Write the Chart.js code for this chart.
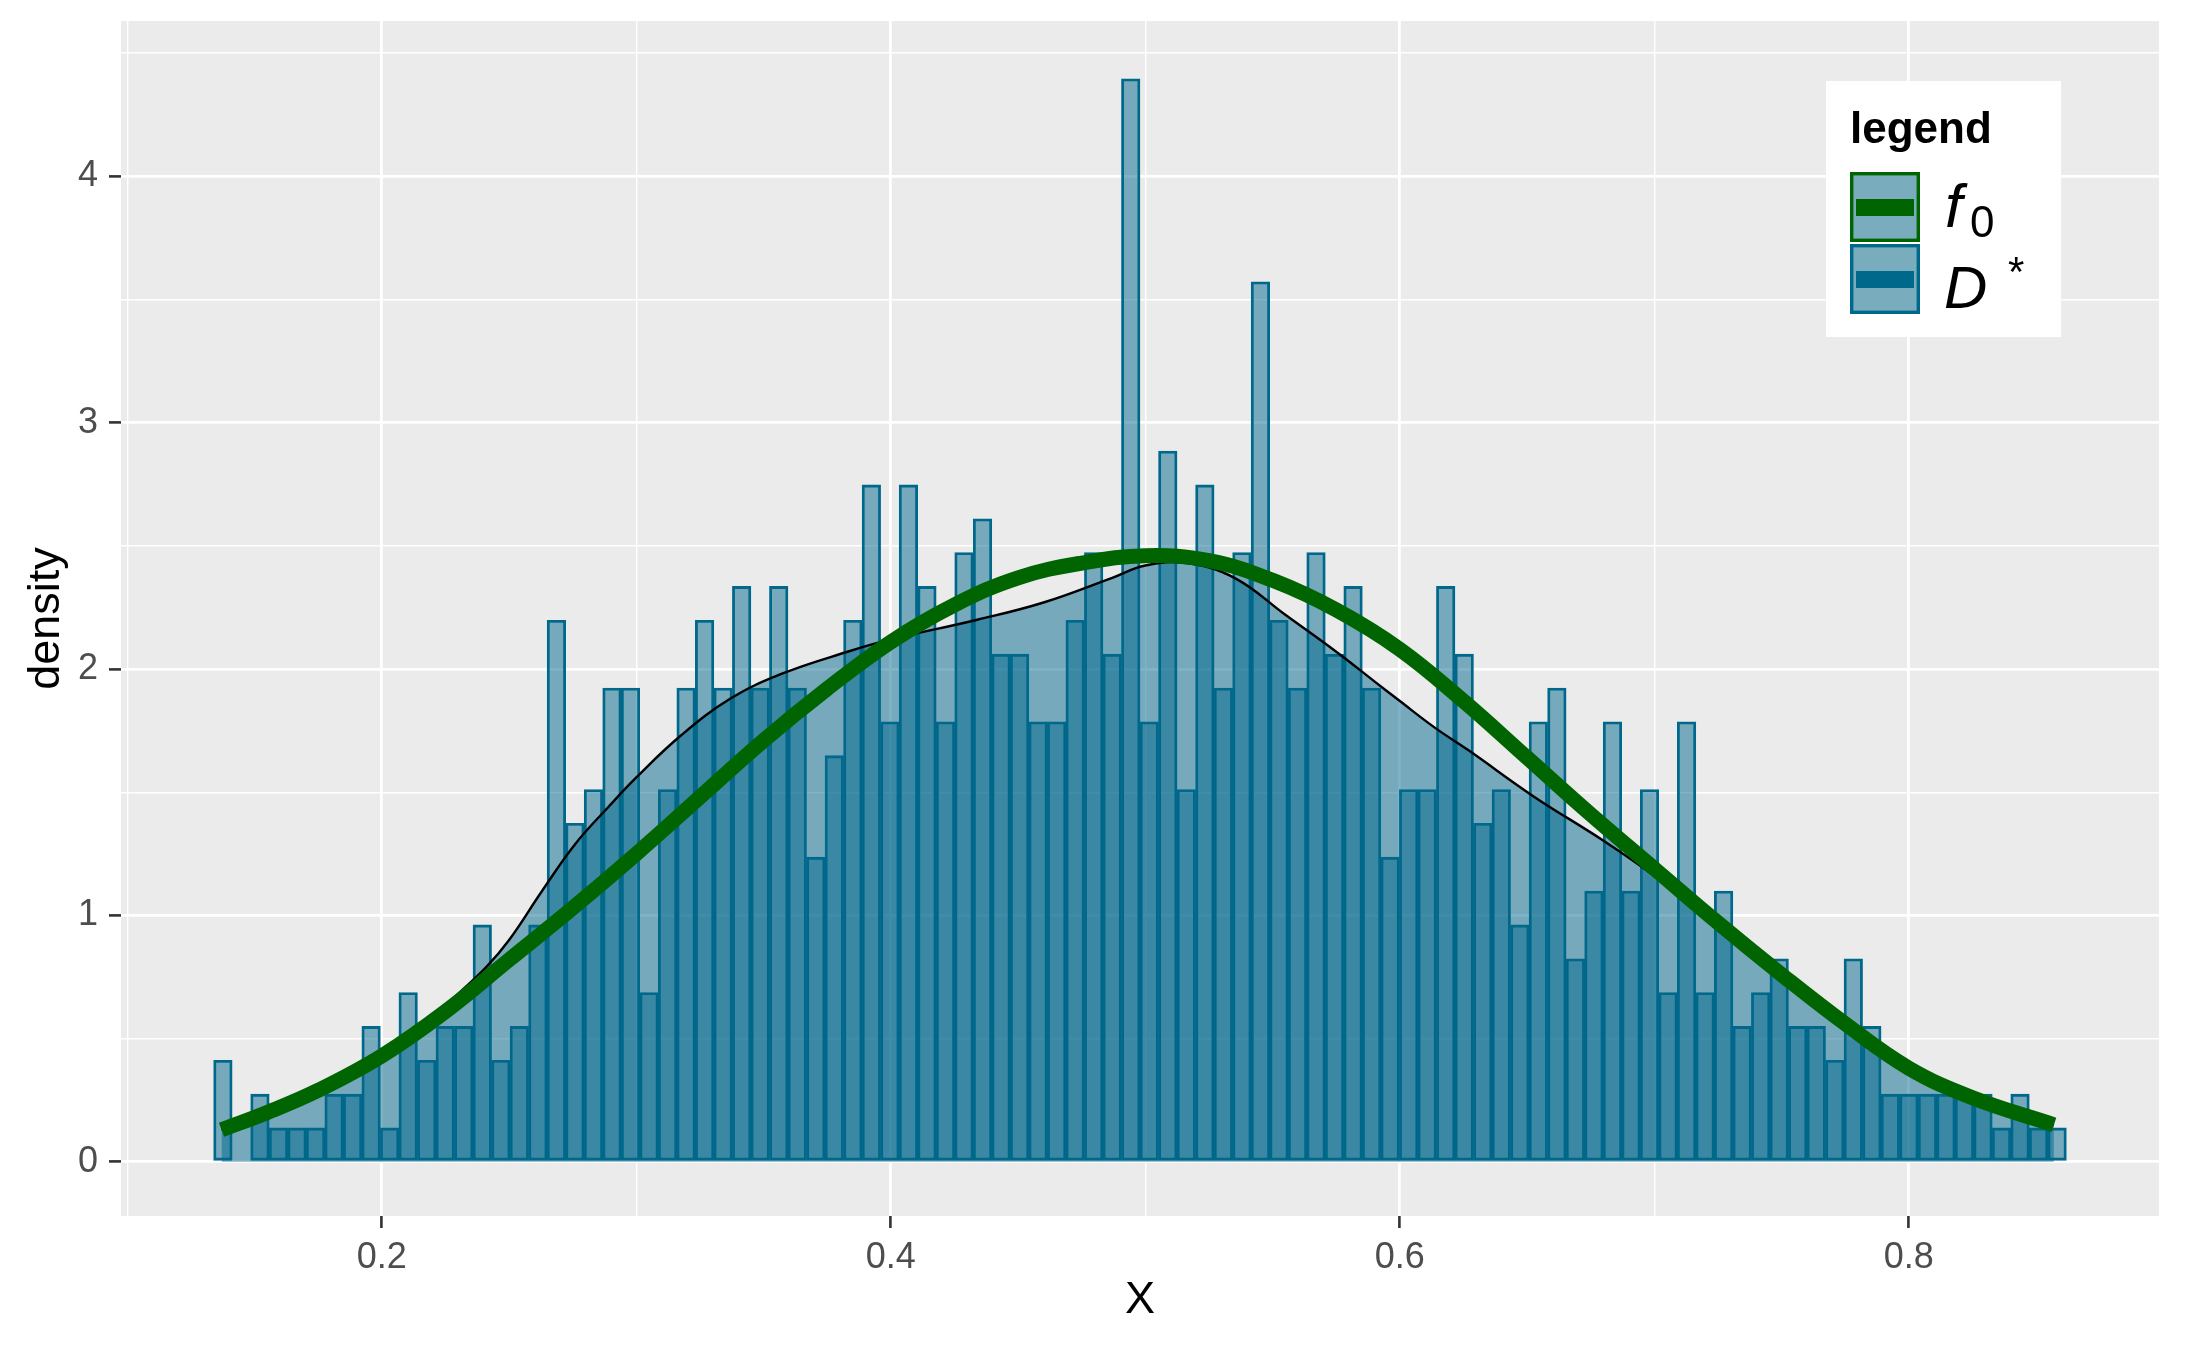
<!DOCTYPE html>
<html>
<head>
<meta charset="utf-8">
<script src="https://cdn.jsdelivr.net/npm/chart.js@4.4.0/dist/chart.umd.min.js"></script>
<style>
  html, body { margin: 0; padding: 0; background: #ffffff; }
  #wrap { width: 2187px; height: 1350px; }
</style>
</head>
<body>
<div id="wrap"><canvas id="histChart"></canvas></div>
<script>
// histogram: 100 bins, counts
const binStart = 0.1339;
const binWidth = 0.00728;
const sampleSize = 1000;
const binCounts = [
  3, 0, 2, 1, 1, 1, 2, 2, 4, 1, 5, 3, 4, 4, 7, 3, 4, 7, 16, 10,
  11, 14, 14, 5, 11, 14, 16, 14, 17, 14, 17, 14, 9, 12, 16, 20, 13, 20, 17, 13,
  18, 19, 15, 15, 13, 13, 16, 18, 15, 32, 13, 21, 11, 20, 14, 18, 26, 16, 14, 18,
  15, 17, 14, 9, 11, 11, 17, 15, 10, 11, 7, 13, 14, 6, 8, 13, 8, 11, 5, 13,
  5, 8, 4, 5, 6, 4, 4, 3, 6, 4, 2, 2, 2, 2, 2, 2, 1, 2, 1, 1
];

// f0 curve (green)
const f0X = [0.137, 0.155, 0.175, 0.2, 0.225, 0.25, 0.275, 0.3, 0.325, 0.35,
  0.375, 0.4, 0.425, 0.45, 0.475, 0.5, 0.525, 0.55, 0.575, 0.6,
  0.625, 0.65, 0.675, 0.7, 0.725, 0.75, 0.775, 0.8, 0.825, 0.857];
const f0Y = [0.13, 0.20, 0.29, 0.43, 0.61, 0.82, 1.03, 1.25, 1.48, 1.71,
  1.92, 2.11, 2.26, 2.37, 2.43, 2.46, 2.44, 2.36, 2.24, 2.08,
  1.87, 1.64, 1.41, 1.19, 0.97, 0.76, 0.56, 0.38, 0.26, 0.15];

// kernel density of D* (black line, filled)
const densX = [0.137, 0.155, 0.175, 0.2, 0.217, 0.225, 0.241, 0.25, 0.263, 0.276,
  0.289, 0.3, 0.3175, 0.337, 0.357, 0.383, 0.4, 0.434, 0.46, 0.487,
  0.5, 0.516, 0.535, 0.555, 0.575, 0.59, 0.6, 0.614, 0.627, 0.653,
  0.679, 0.7, 0.723, 0.731, 0.7625, 0.78, 0.8, 0.825, 0.857];
const densY = [0.13, 0.20, 0.29, 0.43, 0.53, 0.63, 0.79, 0.90, 1.10, 1.29,
  1.44, 1.56, 1.73, 1.88, 1.98, 2.07, 2.12, 2.20, 2.27, 2.37,
  2.42, 2.43, 2.37, 2.22, 2.07, 1.95, 1.87, 1.76, 1.67, 1.48,
  1.31, 1.16, 0.97, 0.89, 0.65, 0.52, 0.40, 0.27, 0.15];

const xMajor = [0.2, 0.4, 0.6, 0.8];
const xMinor = [0.1, 0.3, 0.5, 0.7];
const yMajor = [0, 1, 2, 3, 4];
const yMinor = [0.5, 1.5, 2.5, 3.5, 4.5];

const FONT = "'Liberation Sans', Arial, sans-serif";
const BLUE = "#00688B";
const GREEN = "#006400";

const barData = binCounts.map((c, i) => ({
  x: binStart + (i + 0.5) * binWidth,
  y: c / (sampleSize * binWidth),
}));
const f0Data = f0X.map((x, i) => ({ x: x, y: f0Y[i] }));
const densData = densX.map((x, i) => ({ x: x, y: densY[i] }));

function gridOpts(major) {
  return {
    offset: false,
    color: "#ffffff",
    lineWidth: (ctx) => (ctx.tick && major.includes(ctx.tick.value) ? 2.8 : 1.4),
    tickColor: (ctx) => (ctx.tick && major.includes(ctx.tick.value) ? "#333333" : "rgba(0,0,0,0)"),
    tickWidth: 2.6,
    tickLength: 12,
  };
}

const panelBg = {
  id: "panelBg",
  beforeDraw(chart) {
    const { ctx, chartArea } = chart;
    ctx.save();
    ctx.fillStyle = "#EBEBEB";
    ctx.fillRect(chartArea.left, chartArea.top, chartArea.right - chartArea.left, chartArea.bottom - chartArea.top);
    ctx.restore();
  },
};

// ggplot style legend box in the top right corner
const boxLegend = {
  id: "boxLegend",
  afterDraw(chart) {
    const ctx = chart.ctx;
    const x0 = chart.chartArea.right - 333;
    const y0 = chart.chartArea.top + 60;
    ctx.save();
    ctx.fillStyle = "#ffffff";
    ctx.fillRect(x0, y0, 235, 256);

    ctx.fillStyle = "#000000";
    ctx.textBaseline = "alphabetic";
    ctx.font = "bold 44px " + FONT;
    ctx.fillText("legend", x0 + 24, y0 + 62);

    const keys = [
      { color: GREEN, y: y0 + 91 },
      { color: BLUE, y: y0 + 163 },
    ];
    keys.forEach((k) => {
      ctx.fillStyle = "#79ADBE";
      ctx.fillRect(x0 + 24, k.y, 70, 70);
      ctx.strokeStyle = k.color;
      ctx.lineWidth = 3.4;
      ctx.strokeRect(x0 + 25.7, k.y + 1.7, 66.6, 66.6);
      ctx.fillStyle = k.color;
      ctx.fillRect(x0 + 30, k.y + 27, 58, 17);
    });

    ctx.fillStyle = "#000000";
    ctx.font = "italic 62px " + FONT;
    ctx.fillText("f", x0 + 119, y0 + 146);
    ctx.font = "44px " + FONT;
    ctx.fillText("0", x0 + 144, y0 + 156);
    ctx.font = "italic 60px " + FONT;
    ctx.fillText("D", x0 + 118, y0 + 227);
    ctx.font = "42px " + FONT;
    ctx.fillText("*", x0 + 182, y0 + 205);
    ctx.restore();
  },
};

const ctx = document.getElementById("histChart").getContext("2d");

const chart = new Chart(ctx, {
  type: "bar",
  data: {
    datasets: [
      {
        type: "line",
        label: "f0",
        data: f0Data,
        borderColor: GREEN,
        borderWidth: 15,
        pointRadius: 0,
        tension: 0.4,
        fill: false,
        order: 0,
      },
      {
        type: "line",
        label: "density",
        data: densData,
        borderColor: "#000000",
        borderWidth: 2.4,
        backgroundColor: "rgba(0,104,139,0.5)",
        pointRadius: 0,
        tension: 0.4,
        fill: "origin",
        order: 1,
      },
      {
        type: "bar",
        label: "D*",
        data: barData,
        backgroundColor: "rgba(0,104,139,0.5)",
        borderColor: BLUE,
        borderWidth: 2.2,
        borderSkipped: false,
        barPercentage: 1,
        categoryPercentage: 1,
        order: 2,
      },
    ],
  },
  options: {
    responsive: true,
    maintainAspectRatio: false,
    animation: false,
    devicePixelRatio: 1,
    layout: {
      padding: { top: 21, right: 28, left: 0, bottom: 0 },
    },
    scales: {
      x: {
        type: "linear",
        offset: false,
        min: 0.0975,
        max: 0.8983,
        afterBuildTicks: (scale) => {
          scale.ticks = [...xMinor, ...xMajor].sort((a, b) => a - b).map((v) => ({ value: v }));
        },
        afterFit: (scale) => {
          scale.height = 134;
          scale.paddingLeft = 0;
          scale.paddingRight = 0;
        },
        grid: gridOpts(xMajor),
        border: { display: false },
        ticks: {
          autoSkip: false,
          maxRotation: 0,
          padding: 8,
          color: "#4D4D4D",
          font: { family: FONT, size: 36 },
          callback: (v) => (xMajor.includes(v) ? String(v) : ""),
        },
        title: {
          display: true,
          text: "X",
          color: "#000000",
          font: { family: FONT, size: 45 },
          padding: { top: 0, bottom: 22 },
        },
      },
      y: {
        type: "linear",
        min: -0.22,
        max: 4.63,
        afterBuildTicks: (scale) => {
          scale.ticks = [...yMajor, ...yMinor].sort((a, b) => a - b).map((v) => ({ value: v }));
        },
        afterFit: (scale) => {
          scale.width = 121;
          scale.paddingTop = 0;
          scale.paddingBottom = 0;
        },
        grid: gridOpts(yMajor),
        border: { display: false },
        ticks: {
          autoSkip: false,
          padding: 11,
          color: "#4D4D4D",
          font: { family: FONT, size: 36 },
          callback: (v) => (yMajor.includes(v) ? String(v) : ""),
        },
        title: {
          display: true,
          text: "density",
          color: "#000000",
          font: { family: FONT, size: 45 },
          padding: { top: 20, bottom: 0 },
        },
      },
    },
    plugins: {
      legend: { display: false },
      tooltip: { enabled: false },
    },
  },
  plugins: [panelBg, boxLegend],
});
</script>
</body>
</html>
